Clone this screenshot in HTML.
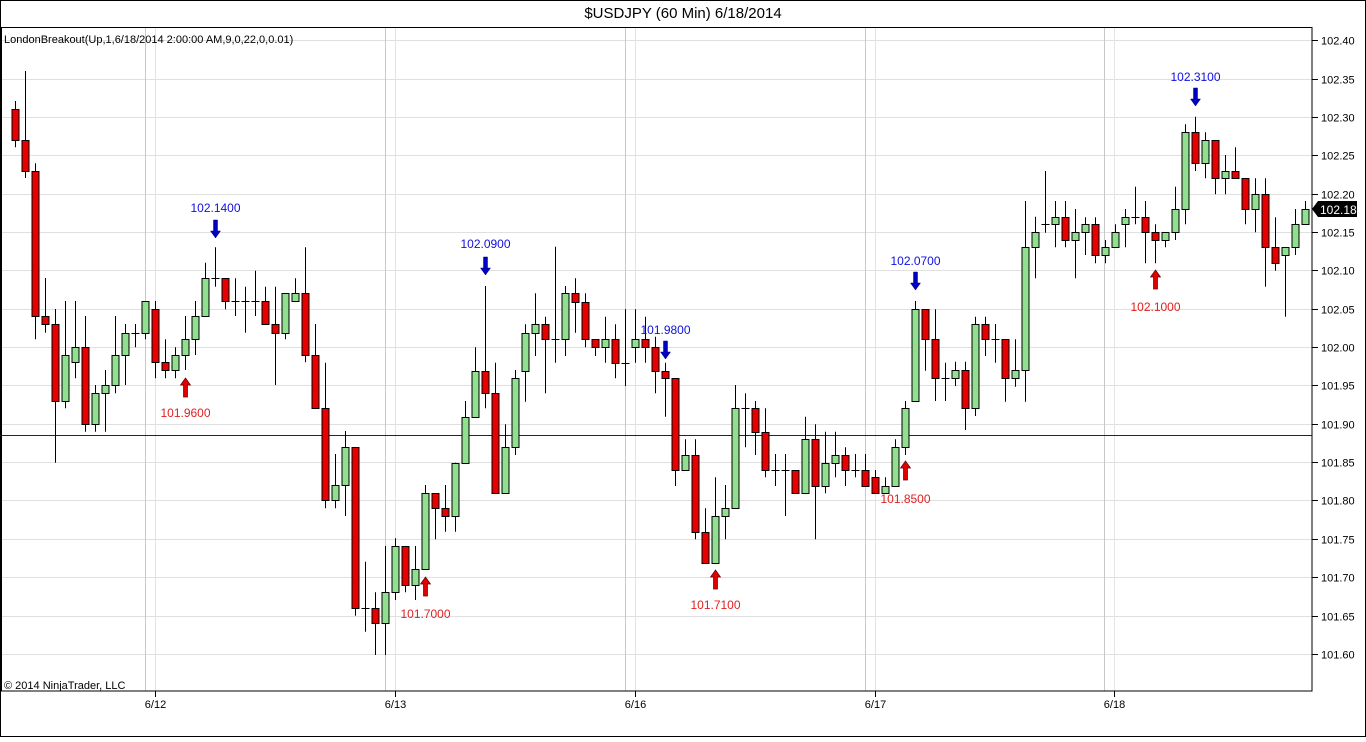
<!DOCTYPE html>
<html><head><meta charset="utf-8"><style>
html,body{margin:0;padding:0;background:#fff;}
svg text{font-family:"Liberation Sans",Arial,sans-serif;}
</style></head><body>
<svg id="s" width="1366" height="737" xmlns="http://www.w3.org/2000/svg">
<rect x="0.5" y="0.5" width="1365" height="736" fill="#fff" stroke="#000"/>
<text x="683" y="18" font-size="15" text-anchor="middle" fill="#000">$USDJPY (60 Min)  6/18/2014</text>
<g id="grid"></g>
<line x1="0" y1="435.5" x2="1312" y2="435.5" stroke="#1a1a80" stroke-width="1"/>
<g id="candles"></g>
<g id="sig"></g>
<rect x="1.5" y="27.5" width="1310.5" height="663.5" fill="none" stroke="#000"/>
<text x="4" y="43" font-size="11" fill="#000">LondonBreakout(Up,1,6/18/2014 2:00:00 AM,9,0,22,0,0.01)</text>
<text x="4" y="689" font-size="11" fill="#000">© 2014 NinjaTrader, LLC</text>
<g id="axis"></g>
<path d="M1312,209 L1318,201 L1357,201 L1357,217 L1318,217 Z" fill="#000"/>
<text x="1320" y="214" font-size="12" fill="#fff">102.18</text>
</svg>
<script>
var NS="http://www.w3.org/2000/svg";
function el(p,t,a,txt){var e=document.createElementNS(NS,t);for(var k in a)e.setAttribute(k,a[k]);if(txt!=null)e.textContent=txt;p.appendChild(e);return e;}
function Y(p){return 40.3+(102.40-p)*767;}
var g=document.getElementById('grid'),ax=document.getElementById('axis');
for(var i=0;i<=16;i++){var p=102.40-i*0.05,y=Math.round(Y(p))+0.5;
 el(g,'line',{x1:2,y1:y,x2:1312,y2:y,stroke:'#e0e0e0'});
 el(ax,'line',{x1:1312,y1:y,x2:1318,y2:y,stroke:'#000'});
 el(ax,'text',{x:1321,y:y+4,'font-size':11,fill:'#000'},p.toFixed(2));}
var days=[[145.5,155.5,'6/12'],[385.5,395.5,'6/13'],[625.5,635.5,'6/16'],[865.5,875.5,'6/17'],[1104.5,1114.5,'6/18']];
days.forEach(function(d){el(g,'line',{x1:d[0],y1:28,x2:d[0],y2:691,stroke:'#c8c8c8'});
 el(g,'line',{x1:d[1],y1:28,x2:d[1],y2:691,stroke:'#e4e4e4'});
 el(ax,'line',{x1:d[1],y1:691,x2:d[1],y2:697,stroke:'#000'});
 el(ax,'text',{x:d[1],y:708,'font-size':11,'text-anchor':'middle',fill:'#000'},d[2]);});
// [hi, bodyTop, bodyBot, lo, color]
var C=[
[101,109.3,140,147.3,'r'],[71,140,171,178,'r'],[163.3,171,316,339.3,'r'],[278,316,324,332.7,'r'],[309,324,401,462.7,'r'],
[301,355,401,408.3,'g'],[301,347.3,362.3,378.3,'g'],[316,347.3,424,431.7,'r'],[385,393.3,424,431.7,'g'],[370,385,393.3,431.7,'g'],
[316,355,385,393.3,'g'],[324,332.7,355,385,'g'],[324,332.7,332.7,347.3,'d'],[301,301,332.7,339.3,'g'],[301,309.3,362.3,378.3,'r'],
[339.3,362.3,370,378.3,'r'],[347.3,355,370,378.3,'g'],[316,339.3,355,370,'g'],[301,316,339.3,355,'g'],[262.7,278.3,316,316,'g'],
[247.3,278.3,278.3,286.7,'d'],[278.3,278.3,301,309.3,'r'],[278.3,301,301,316,'d'],[286.7,301,301,332.7,'d'],[270.7,301,301,316,'d'],
[286.7,301,324,324,'r'],[286.7,324,332.7,385,'r'],[293.3,293.3,332.7,339.3,'g'],[278.3,293.3,301,301,'g'],[247.3,293.3,355,362.3,'r'],
[324,355,408.3,408.3,'r'],[362.7,408.3,500,508.3,'r'],[454,485,500,508.3,'g'],[431,447.3,485,516,'g'],[447.3,447.3,608.3,615.7,'r'],
[561.7,608.3,608.3,631.7,'d'],[592.3,608.3,623.3,655,'r'],[546,592.3,623.3,655,'g'],[538.3,546,592.3,600,'g'],[546,546,585,592.3,'r'],
[546,569.3,585,600,'g'],[485,493.3,569.3,569.3,'g'],[493.3,493.3,508.3,539.3,'r'],[485,508.3,516,531.7,'r'],[462.7,462.7,516,531.7,'g'],
[401,416.7,462.7,462.7,'g'],[347.3,370.7,416.7,416.7,'g'],[286,370.7,393.3,408.3,'r'],[362.7,393.3,493.3,493.3,'r'],[424.3,447.3,493.3,493.3,'g'],
[370,378.3,447.3,455,'g'],[324.3,332.7,370.7,401.7,'g'],[293.3,324.3,332.7,356,'g'],[316.7,324.3,339.3,393.3,'r'],[246.7,339.3,339.3,362.7,'d'],
[286,293.3,339.3,356,'g'],[278.3,293.3,301.7,332.7,'r'],[293.3,301.7,339.3,347.3,'r'],[339.3,339.3,347.3,356,'r'],[316.7,339.3,347.3,362.7,'g'],
[324.3,339.3,362.7,378.3,'r'],[309.3,362.7,362.7,386,'d'],[309.3,339.3,347.3,362.7,'g'],[316.7,339.3,347.3,362.7,'r'],[336.7,347.3,370.7,393.3,'r'],
[362.7,370.7,378.3,416.7,'r'],[378.3,378.3,470,486,'r'],[439.3,455,470,470,'g'],[439.3,455,531.7,539.3,'r'],[508.3,531.7,562.7,562.7,'r'],
[477.3,516,562.7,562.7,'g'],[485,508.3,516,539.3,'g'],[385,408.3,508.3,508.3,'g'],[393.3,408.3,408.3,447.3,'d'],[401,408.3,431.7,455,'r'],
[408.3,431.7,470,477.3,'r'],[454,470,470,486,'d'],[454,470,470,516,'d'],[470,470,493.3,493.3,'r'],[416.7,439.3,493.3,493.3,'g'],
[424.3,439.3,486,539.3,'r'],[431.7,462.7,486,493.3,'g'],[431.7,455,462.7,477.3,'g'],[447.3,455,470,486,'r'],[454,470,470,477.3,'d'],
[454,470,486,486,'r'],[470,477.3,493.3,493.3,'r'],[477.3,486,493.3,493.3,'g'],[439.3,447.3,486,486,'g'],[401,408.3,447.3,455,'g'],
[301,309.3,401,401,'g'],[309.3,309.3,339.3,370.7,'r'],[309.3,339.3,378.3,401,'r'],[362.7,378.3,378.3,401,'d'],[361.7,370,378.3,386,'g'],
[361.7,370,408.3,430,'r'],[316.7,324,408.3,416,'g'],[316.7,324,339.3,356,'r'],[324,339.3,339.3,362.7,'d'],[339.3,339.3,378.3,401.7,'r'],
[339.3,370,378.3,386.7,'g'],[201,247.3,370,401.7,'g'],[216.7,232.3,247.3,278.3,'g'],[171,224.3,224.3,232.7,'d'],[201,217.3,224.3,247.3,'g'],
[201,217.3,240,247.3,'r'],[209,232.3,240,278.3,'g'],[217.3,224.3,232.3,255,'g'],[217.3,224.3,255,263.3,'r'],[240,247.3,255,263.3,'g'],
[224.3,232.3,247.3,247.3,'g'],[209,217.3,224.3,247.3,'g'],[186.7,217.3,217.3,224.3,'d'],[201,217.3,232.3,263.3,'r'],[224.3,232.3,240,263.3,'r'],
[232.3,232.3,240,247.3,'g'],[186.7,209,232.3,240,'g'],[124.3,132.3,209,224.3,'g'],[116.7,132.3,163.3,171,'r'],[132.3,140,163.3,178.3,'g'],
[140,140,178.3,194.3,'r'],[155,171,178.3,194.3,'g'],[147.3,171,178.3,178.3,'r'],[178.3,178.3,209,224.3,'r'],[178.3,194.3,209,232.3,'g'],
[178.3,194.3,247.3,286.7,'r'],[217.3,247.3,263.3,270.7,'r'],[247.3,247.3,255,316.7,'g'],[209,224.3,247.3,255,'g'],[201,209,224.3,224.3,'g']];
var cg=document.getElementById('candles');
C.forEach(function(c,i){var x=Math.round(15.3+10*i)+0.5;
 el(cg,'line',{x1:x,y1:c[0],x2:x,y2:c[3],stroke:'#000'});
 if(c[4]=='d'){el(cg,'line',{x1:x-4,y1:Math.round(c[1])+0.5,x2:x+4,y2:Math.round(c[1])+0.5,stroke:'#000'});}
 else{var t=Math.round(c[1]),b=Math.round(c[2]);if(b-t<2)b=t+2;
 el(cg,'rect',{x:x-3.5,y:t+0.5,width:7,height:b-t,fill:c[4]=='r'?'#e80000':'#90e090',stroke:'#000'});}});
var sg=document.getElementById('sig');
function down(x,y1,txt,ty){x=Math.round(x)+0.5;
 el(sg,'path',{d:'M'+(x-2)+','+y1+' L'+(x+2)+','+y1+' L'+(x+2)+','+(y1+11)+' L'+(x+5)+','+(y1+11)+' L'+x+','+(y1+18)+' L'+(x-5)+','+(y1+11)+' L'+(x-2)+','+(y1+11)+' Z',fill:'#0000c0',stroke:'#000080','stroke-width':0.5});
 el(sg,'text',{x:x,y:ty,'font-size':12,'text-anchor':'middle',fill:'#1010e0'},txt);}
function up(x,y1,txt,ty){x=Math.round(x)+0.5;
 el(sg,'path',{d:'M'+(x-2)+','+(y1+19)+' L'+(x+2)+','+(y1+19)+' L'+(x+2)+','+(y1+7)+' L'+(x+5)+','+(y1+7)+' L'+x+','+y1+' L'+(x-5)+','+(y1+7)+' L'+(x-2)+','+(y1+7)+' Z',fill:'#e00000',stroke:'#600000','stroke-width':0.7});
 el(sg,'text',{x:x,y:ty,'font-size':12,'text-anchor':'middle',fill:'#e02020'},txt);}
down(215,220,'102.1400',212);
down(485,257,'102.0900',248);
down(665,341,'101.9800',334);
down(915,272,'102.0700',265);
down(1195,88,'102.3100',81);
up(185,378,'101.9600',417);
up(425,577,'101.7000',618);
up(715,570,'101.7100',609);
up(905,461,'101.8500',503);
up(1155,270,'102.1000',311);
</script>
</body></html>
